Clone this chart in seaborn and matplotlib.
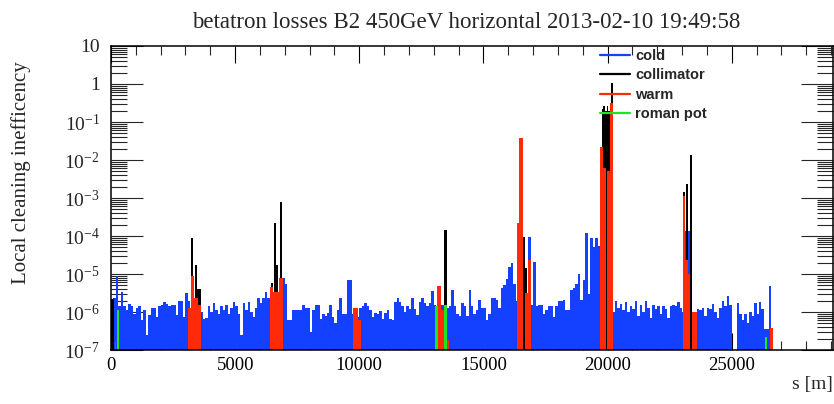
import numpy as np
import matplotlib
matplotlib.use("Agg")
import matplotlib.pyplot as plt
import seaborn as sns
from matplotlib.lines import Line2D
from matplotlib.ticker import FixedLocator, FixedFormatter, MultipleLocator, NullFormatter

# ---------------- data ----------------
title = "betatron losses B2 450GeV horizontal 2013-02-10 19:49:58"
ylabel = "Local cleaning inefficency"
xlabel = "s [m]"

# cold (blue) losses in 100 m bins starting at s = 0, values in units of 1e-6
cold_bin_width = 100
cold_values_e6 = [
    1.9, 2.3, 9.0, 1.4, 3.3, 1.4, 1.1, 1.6, 1.4, 0.9,
    1.25, 1.4, 0.6, 1.1, 0.25, 0.85, 1.25, 1.3, 0.75, 1.4,
    1.5, 1.8, 1.6, 1.4, 1.5, 1.5, 0.85, 1.9, 1.9, 0.75,
    3.1, 2.0, 1.0, 1.0, 1.0, 1.0, 1.0, 0.65, 0.7, 1.4,
    1.0, 1.7, 1.1, 0.9, 1.4, 1.1, 1.5, 0.9, 1.25, 1.8,
    1.4, 0.9, 0.25, 1.7, 1.1, 1.8, 1.0, 0.75, 1.25, 2.3,
    1.7, 2.4, 3.3, 2.4, 1.0, 1.0, 1.0, 1.0, 1.0, 8.0,
    5.5, 0.6, 0.6, 1.1, 1.1, 1.1, 1.1, 1.5, 1.25, 1.25,
    0.3, 1.1, 1.5, 1.5, 0.65, 0.9, 0.8, 0.95, 1.5, 0.75,
    0.5, 1.1, 2.4, 0.9, 0.9, 7.0, 7.0, 0.9, 0.5, 0.75,
    1.25, 1.4, 1.7, 1.4, 1.1, 0.75, 0.95, 0.9, 1.05, 0.65,
    0.95, 1.1, 0.65, 0.6, 1.8, 2.4, 1.8, 1.4, 1.0, 1.4,
    1.2, 2.4, 1.2, 0.85, 1.8, 2.4, 1.7, 1.4, 1.7, 3.5,
    1.5, 1.3, 1.3, 1.5, 1.5, 1.3, 1.4, 3.7, 1.4, 0.9,
    0.8, 1.7, 1.4, 0.8, 3.8, 1.4, 0.9, 1.1, 2.1, 1.25,
    1.25, 0.6, 0.9, 2.3, 2.3, 2.1, 1.3, 4.2, 5.1, 7.4,
    15, 19, 5.6, 2.0, 1.0, 1.0, 1.0, 1.0, 95, 1.5,
    21, 1.4, 1.5, 1.5, 0.9, 1.1, 1.4, 1.4, 0.75, 1.4,
    1.9, 1.9, 2.1, 1.1, 1.1, 3.8, 4.3, 5.6, 10, 2.1,
    7.0, 120, 3.0, 86, 50, 86, 56, 1.0, 1.0, 1.0,
    1.0, 1.0, 1.0, 2.0, 1.3, 1.6, 1.1, 1.8, 1.0, 1.4,
    1.2, 1.9, 0.8, 1.5, 1.0, 2.0, 1.3, 0.7, 1.5, 1.2,
    1.4, 0.9, 1.4, 1.2, 0.7, 1.4, 1.5, 1.4, 1.8, 1.3,
    1.0, 136, 136, 136, 1.0, 1.0, 1.2, 1.1, 1.3, 0.8,
    1.3, 1.2, 1.6, 1.0, 0.7, 1.3, 2.0, 1.4, 2.7, 1.5,
    0.0, 0.0, 1.7, 0.9, 0.6, 0.9, 0.5, 1.0, 0.8, 1.7,
    0.9, 1.8, 1.2, 0.35, 0.35, 4.8,
]

# collimator (black) losses: start [m], width [m], value
coll_start = [20, 3235, 3385, 3480, 6450, 6550, 6660, 6790, 13425,
              16580, 16670, 19760, 19830, 19900, 19960, 20030, 20130,
              23020, 23170, 23330]
coll_width = [110, 80, 80, 130, 80, 100, 70, 100, 90,
              90, 70, 70, 70, 60, 70, 100, 70,
              100, 50, 60]
coll_value = [2.2e-6, 9e-5, 1.7e-5, 4e-6, 5.8e-6, 2.2e-4, 1.7e-5, 7.7e-4, 1.4e-4,
              9.6e-5, 1.45e-5, 0.22, 0.26, 0.19, 0.27, 0.2, 1.08,
              1.45e-3, 2.35e-3, 1.33e-2]

# warm (red) losses
warm_start = [150, 3100, 3235, 3345, 3485, 6400, 6520, 6780, 9760, 9930,
              13140, 13280, 13520, 16340, 16445, 16675, 16810,
              19690, 19830, 19965, 20085, 23020, 23120, 23250, 23410, 26540]
warm_width = [60, 135, 110, 140, 150, 120, 260, 150, 170, 150,
              140, 130, 90, 105, 135, 135, 105,
              140, 125, 115, 145, 100, 130, 90, 190, 110]
warm_value = [1.6e-7, 1.3e-6, 9e-6, 2.4e-6, 1.5e-6, 4.5e-6, 3.4e-6, 8e-6, 1.25e-6, 6e-7,
              4.8e-6, 1.1e-6, 1.8e-7, 2.15e-4, 3.9e-2, 3.1e-6, 2.3e-5,
              2.2e-2, 6e-3, 5e-3, 0.32, 1.1e-3, 2.3e-5, 9.8e-6, 1e-6, 3.7e-7]

# roman pot (green) losses
rp_start = [230, 13050, 13425, 26340]
rp_width = [90, 130, 120, 90]
rp_value = [1.1e-6, 1.4e-6, 1.55e-6, 2.2e-7]

legend_labels = ["cold", "collimator", "warm", "roman pot"]
c_cold, c_coll, c_warm, c_rp = "#1440ff", "#000000", "#ff2a0a", "#1ee61e"

ytick_values = [1e-7, 1e-6, 1e-5, 1e-4, 1e-3, 1e-2, 1e-1, 1, 10]
ytick_labels = [r"$\mathregular{10^{-7}}$", r"$\mathregular{10^{-6}}$",
                r"$\mathregular{10^{-5}}$", r"$\mathregular{10^{-4}}$",
                r"$\mathregular{10^{-3}}$", r"$\mathregular{10^{-2}}$",
                r"$\mathregular{10^{-1}}$", "1", "10"]
xtick_values = [0, 5000, 10000, 15000, 20000, 25000]

# ---------------- style ----------------
sns.set_style("white")
plt.rcParams["font.family"] = ["Liberation Serif", "DejaVu Serif"]
plt.rcParams["mathtext.fontset"] = "custom"
plt.rcParams["mathtext.rm"] = "Liberation Serif"
plt.rcParams["mathtext.it"] = "Liberation Serif:italic"

fig = plt.figure(figsize=(8.34, 4.04), dpi=100)
ax = fig.add_axes([111 / 834, 54 / 404, 722 / 834, 304 / 404])


def draw_series(starts, widths, values, color):
    ends = [s + w for s, w in zip(starts, widths)]
    edges = sorted(set(starts) | set(ends))
    centers = [s + w / 2 for s, w in zip(starts, widths)]
    sns.histplot(x=centers, weights=values, bins=edges, stat="count",
                 element="bars", fill=True, color=color, alpha=1,
                 linewidth=0, ax=ax)


cold_start = [i * cold_bin_width for i in range(len(cold_values_e6))]
cold_width = [cold_bin_width] * len(cold_values_e6)
cold_value = [v * 1e-6 for v in cold_values_e6]

draw_series(cold_start, cold_width, cold_value, c_cold)
draw_series(coll_start, coll_width, coll_value, c_coll)
draw_series(warm_start, warm_width, warm_value, c_warm)
draw_series(rp_start, rp_width, rp_value, c_rp)

ax.set_yscale("log")
ax.set_ylim(1e-7, 10)
ax.set_xlim(0, 29080)

ax.yaxis.set_major_locator(FixedLocator(ytick_values))
ax.yaxis.set_major_formatter(FixedFormatter(ytick_labels))
minor_y = [m * 10.0 ** e for e in range(-7, 1) for m in range(2, 10)]
ax.yaxis.set_minor_locator(FixedLocator(minor_y))
ax.yaxis.set_minor_formatter(NullFormatter())

ax.xaxis.set_major_locator(FixedLocator(xtick_values))
ax.xaxis.set_minor_locator(MultipleLocator(1000))

ax.tick_params(axis="x", which="major", direction="in", length=12, width=0.8,
               top=True, bottom=True, labelsize=13.5, pad=5, colors="black")
ax.tick_params(axis="x", which="minor", direction="in", length=6.5, width=0.8,
               top=True, bottom=True)
ax.tick_params(axis="y", which="major", direction="in", length=23, width=0.8,
               left=True, right=True, labelsize=14, pad=8)
ax.tick_params(axis="y", which="minor", direction="in", length=11.5, width=0.8,
               left=True, right=True)

for sp in ax.spines.values():
    sp.set_visible(True)
    sp.set_color("black")
    sp.set_linewidth(1.1)

ax.set_ylabel(ylabel, fontsize=15)
ax.yaxis.set_label_coords(-0.111, 0.585)
ax.set_xlabel(xlabel, fontsize=14, loc="right")
ax.xaxis.set_label_coords(1.0, -0.085)

fig.text(466 / 834, 1 - 28 / 404, title, ha="center", va="baseline", fontsize=16.5)

handles = [Line2D([], [], color=c, lw=1.6) for c in (c_cold, c_coll, c_warm, c_rp)]
ax.legend(handles, legend_labels, loc="upper left",
          bbox_to_anchor=((600 - 111) / 722, (350 - 49) / 304),
          frameon=False, borderpad=0, borderaxespad=0,
          prop={"family": "Liberation Sans", "weight": "bold", "size": 10.5},
          handlelength=2.05, handletextpad=0.35, labelspacing=0.37)

fig.savefig("out.png", dpi=100, facecolor="white")
